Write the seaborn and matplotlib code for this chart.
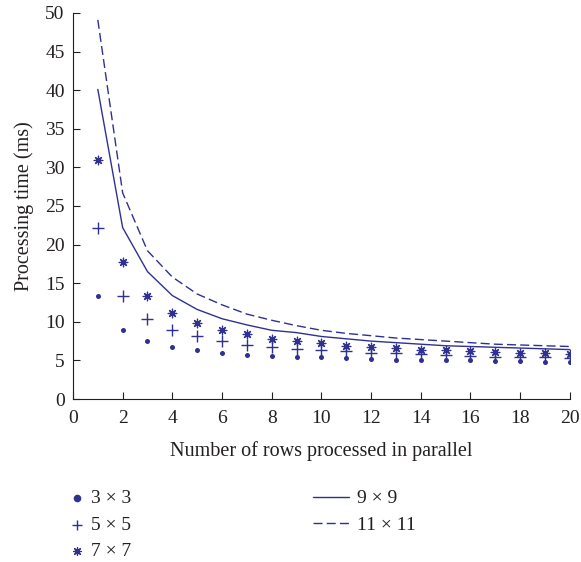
import numpy as np
import pandas as pd
import matplotlib
matplotlib.use("Agg")
import matplotlib.pyplot as plt
import seaborn as sns

rows = list(range(1, 21))
k3 = [13.3, 8.9, 7.5, 6.8, 6.3, 6.0, 5.7, 5.6, 5.4, 5.4, 5.3, 5.2, 5.1, 5.1, 5.0, 5.0, 4.9, 4.9, 4.8, 4.8]
k5 = [22.1, 13.4, 10.4, 8.9, 8.1, 7.5, 7.0, 6.7, 6.5, 6.3, 6.2, 6.0, 5.9, 5.8, 5.7, 5.6, 5.5, 5.5, 5.4, 5.3]
k7 = [30.9, 17.7, 13.3, 11.2, 9.8, 8.9, 8.4, 7.8, 7.5, 7.2, 6.9, 6.7, 6.6, 6.4, 6.3, 6.2, 6.1, 6.0, 5.9, 5.8]
k9 = [40.1, 22.2, 16.5, 13.4, 11.6, 10.4, 9.6, 8.9, 8.6, 8.1, 7.8, 7.5, 7.3, 7.1, 6.9, 6.8, 6.7, 6.6, 6.5, 6.4]
k11 = [49.1, 26.7, 19.2, 15.8, 13.6, 12.2, 11.0, 10.2, 9.5, 8.9, 8.5, 8.2, 7.9, 7.7, 7.5, 7.3, 7.1, 7.0, 6.9, 6.8]
labels = ["3 × 3", "5 × 5", "7 × 7", "9 × 9", "11 × 11"]

sns.set_theme(style="ticks")
plt.rcParams["font.family"] = ["Liberation Serif", "DejaVu Serif"]
color = "#2e3192"
ink = "#231f20"
fs = 14

fig = plt.figure(figsize=(5.81, 5.62), dpi=100)
ax = fig.add_axes([0.1256, 0.29, 0.855, 0.687])

df = pd.DataFrame({"rows": rows, "k3": k3, "k5": k5, "k7": k7, "k9": k9, "k11": k11})

sns.scatterplot(data=df, x="rows", y="k3", ax=ax, marker="o", s=13, color=color,
                edgecolor=color, linewidth=0, label=labels[0])
sns.scatterplot(data=df, x="rows", y="k5", ax=ax, marker="+", s=70, color=color,
                linewidth=1.0, label=labels[1])
sns.scatterplot(data=df, x="rows", y="k7", ax=ax, marker=(8, 2, 0), s=38, color=color,
                linewidth=0.9, label=labels[2])
sns.lineplot(data=df, x="rows", y="k9", ax=ax, color=color, linewidth=1.0, label=labels[3])
sns.lineplot(data=df, x="rows", y="k11", ax=ax, color=color, linewidth=1.0,
             linestyle=(0, (6.5, 3)), label=labels[4])

ax.set_xlim(0, 20)
ax.set_ylim(0, 50)
ax.set_xticks(range(0, 21, 2))
ax.set_yticks(range(0, 51, 5))
ax.tick_params(direction="in", length=5, width=0.8, labelsize=fs, colors=ink)
ax.tick_params(axis="x", pad=8)
ax.tick_params(axis="y", pad=6)
for side in ("top", "right"):
    ax.spines[side].set_visible(False)
for side in ("left", "bottom"):
    ax.spines[side].set_linewidth(0.8)
    ax.spines[side].set_color(ink)
ax.set_xlabel("Number of rows processed in parallel", fontsize=fs + 0.5, color=ink, labelpad=10)
ax.set_ylabel("Processing time (ms)", fontsize=fs + 0.5, color=ink, labelpad=8)

handles, labs = ax.get_legend_handles_labels()
ax.get_legend().remove()

# marker entries on the left, line entries on the right
leg1 = fig.legend(handles[:3], labs[:3], loc="upper left", bbox_to_anchor=(0.105, 0.139),
                  frameon=False, fontsize=fs, handlelength=1.0, labelspacing=0.45,
                  handletextpad=0.25, labelcolor=ink, borderaxespad=0, borderpad=0.3)
for h, size in zip(leg1.legend_handles, (30, 45, 30)):
    h.set_sizes([size])
leg2 = fig.legend(handles[3:], labs[3:], loc="upper left", bbox_to_anchor=(0.528, 0.139),
                  frameon=False, fontsize=fs, handlelength=1.85, labelspacing=0.45,
                  handletextpad=0.45, labelcolor=ink, borderaxespad=0, borderpad=0.3)

fig.savefig("out.png", dpi=100)
